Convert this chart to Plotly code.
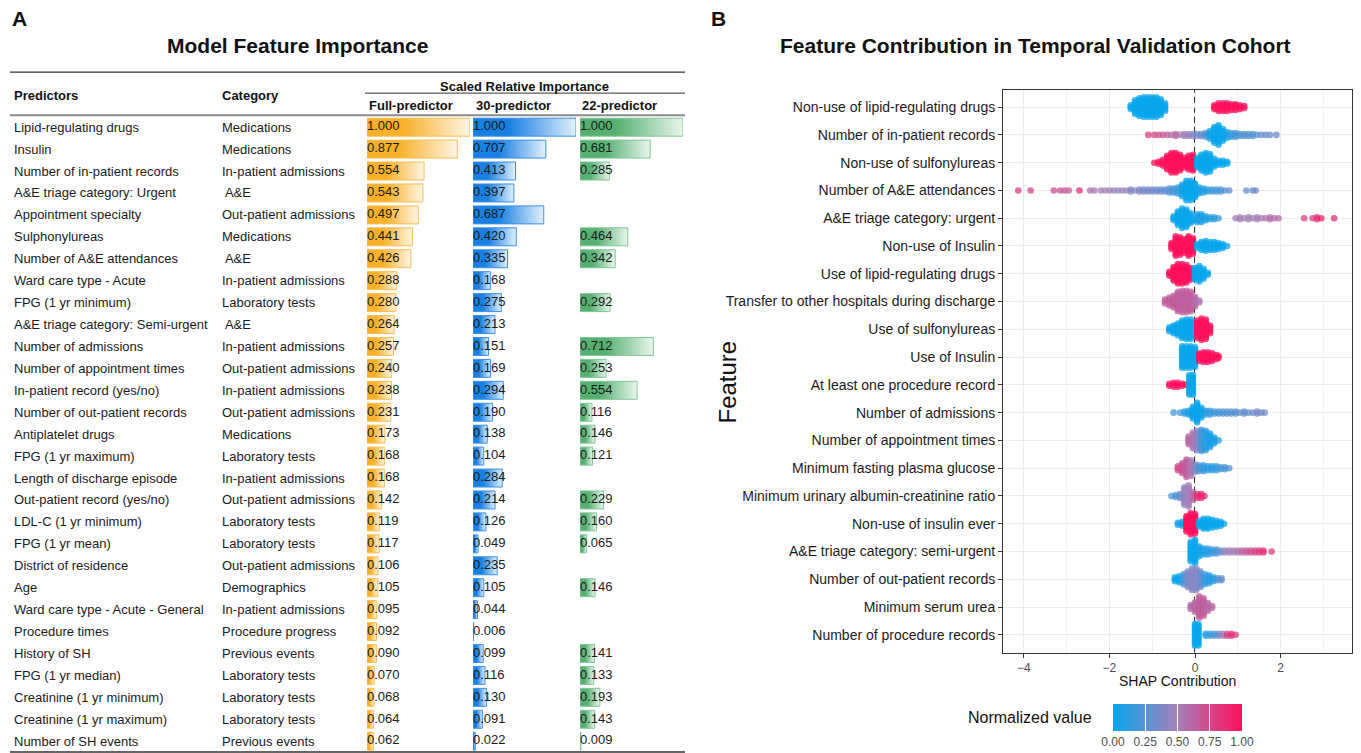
import plotly.graph_objects as go

W, H = 1361, 753          # reference picture size (coordinates below are in its pixels)
HL = 776                  # layout height: the page is photographed taller and scaled to 753
FONT = "Liberation Sans, Arial, Helvetica, sans-serif"

# ---------------- Panel A data ----------------
predictors = [
    "Lipid-regulating drugs", "Insulin", "Number of in-patient records",
    "A&E triage category: Urgent", "Appointment specialty", "Sulphonylureas",
    "Number of A&E attendances", "Ward care type - Acute", "FPG (1 yr minimum)",
    "A&E triage category: Semi-urgent", "Number of admissions",
    "Number of appointment times", "In-patient record (yes/no)",
    "Number of out-patient records", "Antiplatelet drugs", "FPG (1 yr maximum)",
    "Length of discharge episode", "Out-patient record (yes/no)",
    "LDL-C (1 yr minimum)", "FPG (1 yr mean)", "District of residence", "Age",
    "Ward care type - Acute - General", "Procedure times", "History of SH",
    "FPG (1 yr median)", "Creatinine (1 yr minimum)", "Creatinine (1 yr maximum)",
    "Number of SH events",
]
categories = [
    "Medications", "Medications", "In-patient admissions", " A&E",
    "Out-patient admissions", "Medications", " A&E", "In-patient admissions",
    "Laboratory tests", " A&E", "In-patient admissions", "Out-patient admissions",
    "In-patient admissions", "Out-patient admissions", "Medications",
    "Laboratory tests", "In-patient admissions", "Out-patient admissions",
    "Laboratory tests", "Laboratory tests", "Out-patient admissions",
    "Demographics", "In-patient admissions", "Procedure progress",
    "Previous events", "Laboratory tests", "Laboratory tests", "Laboratory tests",
    "Previous events",
]
imp_full = [1.000, 0.877, 0.554, 0.543, 0.497, 0.441, 0.426, 0.288, 0.280, 0.264,
            0.257, 0.240, 0.238, 0.231, 0.173, 0.168, 0.168, 0.142, 0.119, 0.117,
            0.106, 0.105, 0.095, 0.092, 0.090, 0.070, 0.068, 0.064, 0.062]
imp_30 = [1.000, 0.707, 0.413, 0.397, 0.687, 0.420, 0.335, 0.168, 0.275, 0.213,
          0.151, 0.169, 0.294, 0.190, 0.138, 0.104, 0.284, 0.214, 0.126, 0.049,
          0.235, 0.105, 0.044, 0.006, 0.099, 0.116, 0.130, 0.091, 0.022]
imp_22 = [1.000, 0.681, 0.285, None, None, 0.464, 0.342, None, 0.292, None,
          0.712, 0.253, 0.554, 0.116, 0.146, 0.121, None, 0.229, 0.160, 0.065,
          None, 0.146, None, None, 0.141, 0.133, 0.193, 0.143, 0.009]

# ---------------- Panel B data ----------------
shap_features = [
    "Non-use of lipid-regulating drugs", "Number of in-patient records",
    "Non-use of sulfonylureas", "Number of A&E attendances",
    "A&E triage category: urgent", "Non-use of Insulin",
    "Use of lipid-regulating drugs", "Transfer to other hospitals during discharge",
    "Use of sulfonylureas", "Use of Insulin", "At least one procedure record",
    "Number of admissions", "Number of appointment times",
    "Minimum fasting plasma glucose", "Minimum urinary albumin-creatinine ratio",
    "Non-use of insulin ever", "A&E triage category: semi-urgent",
    "Number of out-patient records", "Minimum serum urea",
    "Number of procedure records",
]

# (SHAP value, number of stacked points, normalized feature value)
swarm_nonuse_lipid = [(-1.5, 3, 0), (-1.4, 8, 0), (-1.3, 10, 0), (-1.2, 11, 0), (-1.1, 11, 0),
                      (-1.0, 11, 0), (-0.9, 11, 0), (-0.8, 9, 0), (-0.7, 5, 0),
                      (0.45, 3, 1), (0.55, 5, 1), (0.65, 5, 1), (0.75, 5, 1), (0.85, 4, 1),
                      (0.95, 4, 1), (1.05, 3, 1), (1.15, 2, 1)]
swarm_inpatient_records = [(-1.09, 1, 0.8), (-0.95, 1, 0.75), (-0.85, 1, 0.7), (-0.75, 1, 0.7),
                           (-0.65, 1, 0.65), (-0.55, 1, 0.6), (-0.45, 2, 0.6), (-0.35, 1, 0.55),
                           (-0.25, 2, 0.5), (-0.15, 2, 0.45), (-0.05, 2, 0.4), (0.05, 2, 0.35),
                           (0.15, 2, 0.3), (0.25, 3, 0.2), (0.35, 5, 0.05), (0.45, 9, 0),
                           (0.55, 11, 0), (0.65, 7, 0), (0.75, 4, 0.05), (0.85, 3, 0.15),
                           (0.95, 3, 0.2), (1.05, 2, 0.2), (1.15, 2, 0.25), (1.25, 2, 0.25),
                           (1.35, 2, 0.25), (1.45, 1, 0.25), (1.55, 1, 0.3), (1.65, 1, 0.3),
                           (1.75, 1, 0.3), (1.9, 1, 0.3)]
swarm_nonuse_sulf = [(-0.95, 1, 1), (-0.85, 2, 1), (-0.75, 4, 1), (-0.65, 8, 1), (-0.55, 11, 1),
                     (-0.45, 11, 1), (-0.35, 9, 1), (-0.25, 6, 1), (-0.15, 8, 1), (-0.05, 9, 1),
                     (0.05, 6, 0), (0.15, 9, 0), (0.25, 11, 0), (0.35, 10, 0), (0.45, 5, 0),
                     (0.55, 3, 0), (0.65, 3, 0), (0.75, 2, 0)]
swarm_ae_attend = [(-4.13, 1, 0.8), (-3.84, 1, 0.75), (-3.3, 1, 0.7), (-3.15, 1, 0.7),
                   (-3.05, 1, 0.65), (-2.95, 1, 0.65), (-2.7, 1, 0.85), (-2.45, 1, 0.55),
                   (-2.35, 1, 0.55), (-2.2, 1, 0.5), (-2.1, 1, 0.5), (-2.0, 1, 0.5),
                   (-1.9, 1, 0.45), (-1.8, 1, 0.45), (-1.7, 1, 0.45), (-1.6, 1, 0.45),
                   (-1.5, 2, 0.4), (-1.4, 1, 0.4), (-1.3, 2, 0.4), (-1.2, 2, 0.35),
                   (-1.1, 2, 0.35), (-1.0, 2, 0.35), (-0.9, 2, 0.3), (-0.8, 2, 0.3),
                   (-0.7, 2, 0.3), (-0.6, 3, 0.25), (-0.5, 3, 0.2), (-0.4, 4, 0.15),
                   (-0.3, 7, 0.05), (-0.2, 11, 0), (-0.1, 11, 0), (0.0, 8, 0), (0.1, 4, 0.05),
                   (0.2, 3, 0.1), (0.3, 2, 0.1), (0.4, 2, 0.15), (0.5, 2, 0.2), (0.6, 2, 0.2),
                   (0.7, 1, 0.25), (0.8, 1, 0.3), (1.2, 1, 0.3), (1.35, 1, 0.3), (1.42, 1, 0.35)]
swarm_ae_urgent = [(-0.5, 3, 0), (-0.4, 8, 0), (-0.3, 11, 0), (-0.2, 10, 0), (-0.1, 6, 0),
                   (0.05, 5, 0.05), (0.15, 5, 0.05), (0.25, 3, 0.05), (0.35, 2, 0.1),
                   (0.45, 2, 0.1), (0.55, 1, 0.15), (0.95, 1, 0.5), (1.05, 2, 0.5),
                   (1.15, 1, 0.5), (1.25, 2, 0.5), (1.35, 1, 0.5), (1.45, 2, 0.5),
                   (1.55, 1, 0.55), (1.65, 1, 0.55), (1.75, 2, 0.55), (1.85, 1, 0.6),
                   (1.95, 1, 0.6), (2.55, 1, 0.8), (2.75, 1, 0.8), (2.85, 2, 0.85),
                   (2.95, 1, 0.9), (3.25, 1, 0.85)]
swarm_nonuse_insulin = [(-0.55, 4, 1), (-0.45, 11, 1), (-0.35, 10, 1), (-0.25, 8, 1),
                        (-0.15, 11, 1), (-0.05, 9, 1), (0.05, 3, 0), (0.15, 5, 0), (0.25, 6, 0),
                        (0.35, 5, 0), (0.45, 5, 0), (0.55, 4, 0), (0.65, 3, 0), (0.75, 1, 0)]
swarm_use_lipid = [(-0.6, 3, 1), (-0.5, 8, 1), (-0.4, 11, 1), (-0.3, 11, 1), (-0.2, 10, 1),
                   (-0.1, 7, 1), (0.0, 7, 0), (0.1, 9, 0), (0.2, 6, 0), (0.3, 2, 0)]
swarm_transfer = [(-0.7, 3, 0.65), (-0.6, 5, 0.65), (-0.5, 7, 0.65), (-0.4, 11, 0.65),
                  (-0.3, 12, 0.65), (-0.2, 12, 0.65), (-0.1, 11, 0.65), (0.0, 6, 0.6),
                  (0.1, 2, 0.55)]
swarm_use_sulf = [(-0.6, 3, 0), (-0.5, 5, 0), (-0.4, 7, 0), (-0.3, 10, 0), (-0.2, 11, 0),
                  (-0.1, 11, 0), (0.05, 10, 1), (0.15, 12, 1), (0.25, 11, 1), (0.35, 5, 1)]
swarm_use_insulin = [(-0.3, 12, 0), (-0.2, 12, 0), (-0.1, 12, 0), (0.0, 11, 0), (0.1, 5, 1),
                     (0.2, 6, 1), (0.3, 6, 1), (0.4, 5, 1), (0.5, 3, 1), (0.55, 2, 1)]
swarm_procedure_any = [(-0.6, 2, 1), (-0.5, 3, 1), (-0.4, 3, 1), (-0.3, 2, 1), (-0.22, 1, 1),
                       (-0.13, 11, 0), (-0.05, 11, 0)]
swarm_admissions = [(-0.5, 1, 0.2), (-0.35, 1, 0.2), (-0.25, 2, 0.1), (-0.15, 3, 0.05),
                    (-0.05, 7, 0), (0.05, 11, 0), (0.15, 6, 0), (0.25, 3, 0.1), (0.35, 3, 0.15),
                    (0.45, 2, 0.2), (0.55, 2, 0.2), (0.65, 2, 0.2), (0.75, 2, 0.25),
                    (0.85, 2, 0.25), (0.95, 2, 0.25), (1.05, 1, 0.3), (1.15, 2, 0.3),
                    (1.25, 1, 0.3), (1.35, 1, 0.3), (1.45, 2, 0.35), (1.55, 1, 0.35),
                    (1.63, 1, 0.35)]
swarm_appointments = [(-0.15, 5, 0.6), (-0.05, 9, 0.55), (0.05, 11, 0.4), (0.15, 12, 0.2),
                      (0.25, 11, 0.1), (0.35, 8, 0.05), (0.45, 4, 0.05), (0.55, 1, 0.1)]
swarm_min_fpg = [(-0.4, 3, 0.75), (-0.3, 6, 0.7), (-0.2, 10, 0.65), (-0.1, 9, 0.55),
                 (0.0, 5, 0.4), (0.1, 4, 0.2), (0.2, 4, 0.15), (0.3, 3, 0.1), (0.4, 3, 0.1),
                 (0.5, 3, 0.15), (0.6, 2, 0.2), (0.7, 2, 0.2), (0.8, 1, 0.25)]
swarm_min_uacr = [(-0.55, 1, 0.2), (-0.45, 2, 0.2), (-0.35, 3, 0.3), (-0.25, 10, 0.45),
                  (-0.15, 12, 0.5), (-0.05, 5, 0.6), (0.05, 3, 0.85), (0.15, 3, 0.9),
                  (0.22, 1, 0.85)]
swarm_nonuse_insulin_ever = [(-0.4, 2, 0), (-0.3, 3, 0), (-0.2, 9, 1), (-0.1, 12, 1),
                             (0.0, 11, 1), (0.1, 4, 0), (0.2, 6, 0), (0.3, 6, 0), (0.4, 5, 0),
                             (0.5, 4, 0), (0.6, 3, 0), (0.68, 1, 0)]
swarm_ae_semiurgent = [(-0.1, 11, 0), (0.0, 13, 0), (0.1, 6, 0.05), (0.2, 4, 0.05),
                       (0.3, 4, 0.1), (0.4, 3, 0.15), (0.5, 3, 0.2), (0.6, 2, 0.3),
                       (0.7, 2, 0.45), (0.8, 2, 0.5), (0.9, 2, 0.5), (1.0, 2, 0.55),
                       (1.1, 2, 0.6), (1.2, 2, 0.65), (1.3, 2, 0.7), (1.4, 2, 0.75),
                       (1.5, 2, 0.8), (1.6, 2, 0.85), (1.79, 1, 0.8)]
swarm_outpatient_records = [(-0.47, 3, 0), (-0.37, 4, 0), (-0.27, 6, 0.2), (-0.17, 9, 0.35),
                            (-0.07, 12, 0.4), (0.03, 12, 0.4), (0.13, 9, 0.3), (0.23, 6, 0.15),
                            (0.33, 5, 0.1), (0.43, 3, 0.1), (0.53, 2, 0.2), (0.62, 2, 0.3)]
swarm_min_urea = [(-0.1, 3, 0.6), (0.0, 6, 0.6), (0.1, 12, 0.65), (0.2, 10, 0.65),
                  (0.3, 5, 0.6), (0.4, 2, 0.6)]
swarm_procedure_records = [(0.0, 12, 0), (0.08, 12, 0), (0.25, 2, 0.1), (0.35, 2, 0.15),
                           (0.45, 2, 0.2), (0.55, 2, 0.3), (0.65, 2, 0.5), (0.75, 2, 0.75),
                           (0.85, 2, 0.85), (0.95, 1, 0.8)]

swarm_rows = [swarm_nonuse_lipid, swarm_inpatient_records, swarm_nonuse_sulf, swarm_ae_attend,
              swarm_ae_urgent, swarm_nonuse_insulin, swarm_use_lipid, swarm_transfer,
              swarm_use_sulf, swarm_use_insulin, swarm_procedure_any, swarm_admissions,
              swarm_appointments, swarm_min_fpg, swarm_min_uacr, swarm_nonuse_insulin_ever,
              swarm_ae_semiurgent, swarm_outpatient_records, swarm_min_urea,
              swarm_procedure_records]

colorbar_ticks = [0.0, 0.25, 0.5, 0.75, 1.0]

VS = HL / H  # vertical pixel stretch


def px(p):
    return p / W


def py(p):
    return 1 - p / H


fig = go.Figure()

# ---------------- Panel A: gradient bars ----------------
bar_styles = [
    ("x2", imp_full, "rgb(247,176,40)", "rgb(255,246,230)", "rgb(247,190,80)"),
    ("x3", imp_30, "rgb(24,128,226)", "rgb(226,240,252)", "rgb(60,145,228)"),
    ("x4", imp_22, "rgb(86,176,112)", "rgb(232,246,236)", "rgb(130,198,150)"),
]
HB = 0.41
for xa, vals, c0, c1, cl in bar_styles:
    for i, v in enumerate(vals):
        if v is None:
            continue
        fig.add_trace(go.Scatter(
            x=[0, v, v, 0, 0], y=[i - HB, i - HB, i + HB, i + HB, i - HB],
            xaxis=xa, yaxis="y2", mode="lines", fill="toself",
            fillgradient=dict(type="horizontal", colorscale=[[0, c0], [0.35, c0], [1, c1]]),
            line=dict(color=cl, width=1), hoverinfo="skip", showlegend=False))
    idx = [i for i, v in enumerate(vals) if v is not None]
    fig.add_trace(go.Scatter(
        x=[0] * len(idx), y=idx, text=["%.3f" % vals[i] for i in idx],
        mode="text", textposition="middle right", xaxis=xa, yaxis="y2",
        textfont=dict(family=FONT, size=13, color="#1a1a1a"),
        hoverinfo="skip", showlegend=False))

# ---------------- Panel B: beeswarm ----------------
STEP = 0.07
bx, by, bc = [], [], []
for r, row in enumerate(swarm_rows):
    for sx, n, v in row:
        for k in range(n):
            bx.append(sx)
            by.append(r + (k - (n - 1) / 2) * STEP)
            bc.append(v)

cscale = [[0, "#08A6EC"], [0.5, "#A680BA"], [1, "#FF0F5C"]]
fig.add_trace(go.Scatter(
    x=bx, y=by, mode="markers", xaxis="x", yaxis="y",
    marker=dict(size=6.6, color=bc, colorscale=cscale, cmin=0, cmax=1, opacity=0.75,
                line=dict(width=0), showscale=True,
                colorbar=dict(orientation="h", x=px(1177.5), xanchor="center",
                              y=py(703), yanchor="top", len=129, lenmode="pixels",
                              thickness=round(26 * VS), thicknessmode="pixels", xpad=0, ypad=0,
                              outlinewidth=0, tickvals=colorbar_ticks,
                              ticktext=["%.2f" % t for t in colorbar_ticks],
                              ticks="inside", ticklen=round(26 * VS), tickcolor="white",
                              tickwidth=1,
                              tickfont=dict(family=FONT, size=12, color="#4D4D4D"))),
    hoverinfo="skip", showlegend=False))

# ---------------- Layout ----------------
ann = []
for i, (p, c) in enumerate(zip(predictors, categories)):
    ann.append(dict(x=px(12), y=i, xref="paper", yref="y2", text=p, showarrow=False,
                    xanchor="left", yanchor="middle",
                    font=dict(family=FONT, size=13, color="#1a1a1a")))
    ann.append(dict(x=px(220), y=i, xref="paper", yref="y2", text=c, showarrow=False,
                    xanchor="left", yanchor="middle",
                    font=dict(family=FONT, size=13, color="#1a1a1a")))


def txt(x, y, s, size, bold=False, xanchor="left", angle=0, color="#111"):
    return dict(x=px(x), y=py(y), xref="paper", yref="paper",
                text=("<b>%s</b>" % s) if bold else s, showarrow=False,
                xanchor=xanchor, yanchor="middle", textangle=angle,
                font=dict(family=FONT, size=size, color=color))


ann += [
    txt(10, 18, "A", 21, True),
    txt(709, 18, "B", 21, True),
    txt(297, 45, "Model Feature Importance", 21, True, "center"),
    txt(1035, 45, "Feature Contribution in Temporal Validation Cohort", 21, True, "center"),
    txt(12, 95, "Predictors", 13, True),
    txt(220, 95, "Category", 13, True),
    txt(524, 86, "Scaled Relative Importance", 13, True, "center"),
    txt(367, 105, "Full-predictor", 13, True),
    txt(474, 105, "30-predictor", 13, True),
    txt(580, 105, "22-predictor", 13, True),
    txt(728, 382, "Feature", 24, False, "center", -90),
    txt(1177.5, 680, "SHAP Contribution", 14, False, "center"),
    txt(1030, 717, "Normalized value", 16, False, "center"),
]


def hline(x0, x1, y, color, width):
    return dict(type="line", xref="paper", yref="paper", x0=px(x0), x1=px(x1),
                y0=py(y), y1=py(y), line=dict(color=color, width=width))


shapes = [
    hline(10, 685, 72, "#333333", 1.3),
    hline(365, 685, 93, "#333333", 1),
    hline(10, 685, 115, "#8a8a8a", 2),
    hline(10, 685, 751, "#333333", 1.3),
    dict(type="line", xref="x", yref="y domain", x0=0, x1=0, y0=0, y1=1, layer="below",
         line=dict(color="#1a1a1a", width=1.8, dash="6px,4px")),
]

fig.update_layout(
    width=W, height=HL, autosize=False, margin=dict(l=0, r=0, t=0, b=0),
    paper_bgcolor="white", plot_bgcolor="white", showlegend=False,
    font=dict(family=FONT),
    annotations=ann, shapes=shapes,
    xaxis=dict(domain=[px(1003), px(1352)], range=[-4.486, 3.668], anchor="y",
               tickvals=[-4, -2, 0, 2], ticktext=["\u22124", "\u22122", "0", "2"],
               showgrid=True, gridcolor="#EBEBEB", gridwidth=1,
               minor=dict(tickvals=[-3, -1, 1, 3], showgrid=True, gridcolor="#F2F2F2",
                          gridwidth=0.7, ticks=""),
               zeroline=False, showline=True, mirror=True, linecolor="#333333", linewidth=1,
               ticks="outside", ticklen=4, tickcolor="#333333",
               tickfont=dict(family=FONT, size=12, color="#4D4D4D")),
    yaxis=dict(domain=[py(652), py(90)], range=[19.65, -0.613], anchor="x",
               tickvals=list(range(len(shap_features))), ticktext=shap_features,
               showgrid=True, gridcolor="#EBEBEB", gridwidth=1, zeroline=False,
               showline=True, mirror=True, linecolor="#333333", linewidth=1,
               ticks="outside", ticklen=4, tickcolor="#333333",
               tickfont=dict(family=FONT, size=14, color="#1a1a1a")),
    xaxis2=dict(domain=[px(367), px(470)], range=[0, 1], anchor="y2", visible=False),
    xaxis3=dict(domain=[px(473), px(576)], range=[0, 1], anchor="y2", visible=False),
    xaxis4=dict(domain=[px(580), px(683)], range=[0, 1], anchor="y2", visible=False),
    yaxis2=dict(domain=[0, 1], range=[28.584, -5.799], anchor="x2", visible=False),
)

fig.write_html(
    "out.html",
    config={"displayModeBar": False, "responsive": False},
    post_script=(
        "document.documentElement.style.margin='0';"
        "document.body.style.margin='0';"
        "var g=document.getElementsByClassName('plotly-graph-div')[0];"
        "g.style.position='fixed';g.style.left='0px';g.style.top='0px';"
    ),
)
